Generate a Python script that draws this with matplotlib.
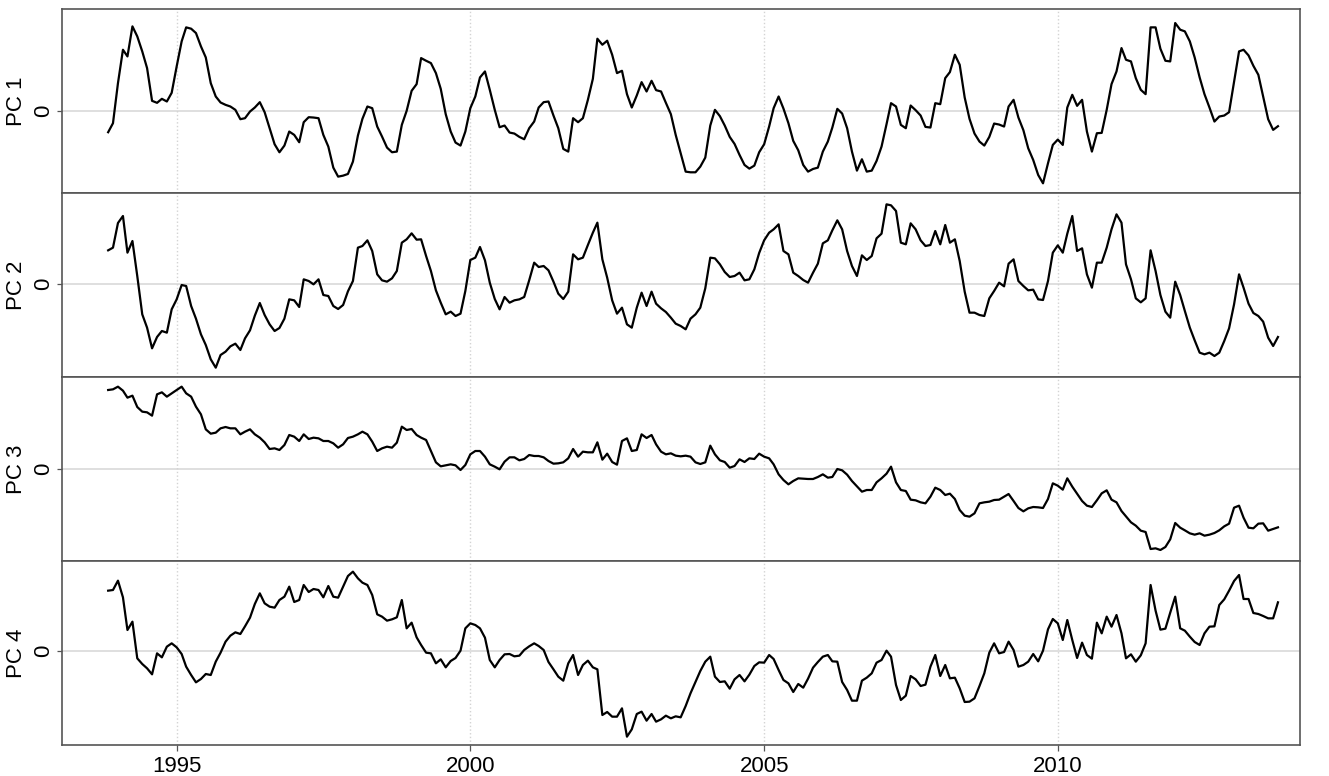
import matplotlib.pyplot as plt
import matplotlib.dates as mdates
import pandas as pd

plt.rcParams['font.family'] = ['Liberation Sans', 'DejaVu Sans']

# monthly scores, Nov 1993 .. Oct 2013
months = pd.date_range('1993-11-01', '2013-10-01', freq='MS')

pc1 = [
    -0.63, -0.36, 0.84, 1.84, 1.64, 2.54, 2.24, 1.79, 1.29, 0.31, 0.25, 0.37, 0.29, 0.55,
    1.34, 2.09, 2.51, 2.47, 2.34, 1.94, 1.61, 0.84, 0.44, 0.26,
    0.19, 0.14, 0.04, -0.24, -0.21, -0.01, 0.11, 0.27, -0.03, -0.51,
    -0.99, -1.23, -1.03, -0.61, -0.71, -0.93, -0.33, -0.18, -0.19, -0.21,
    -0.71, -1.06, -1.69, -1.96, -1.93, -1.88, -1.51, -0.73, -0.23, 0.14,
    0.09, -0.46, -0.76, -1.09, -1.23, -1.21, -0.41, 0.01, 0.61, 0.81,
    1.59, 1.51, 1.44, 1.14, 0.67, -0.09, -0.61, -0.94, -1.03, -0.61,
    0.09, 0.44, 1.01, 1.19, 0.64, 0.04, -0.48, -0.43, -0.64, -0.67,
    -0.77, -0.84, -0.51, -0.31, 0.11, 0.27, 0.29, -0.13, -0.51, -1.13,
    -1.21, -0.21, -0.33, -0.21, 0.34, 0.97, 2.17, 1.99, 2.11, 1.69,
    1.14, 1.21, 0.51, 0.11, 0.47, 0.87, 0.59, 0.91, 0.63, 0.59,
    0.25, -0.09, -0.71, -1.26, -1.81, -1.83, -1.83, -1.66, -1.39, -0.43,
    0.04, -0.15, -0.43, -0.77, -0.98, -1.31, -1.61, -1.72, -1.63, -1.23,
    -0.99, -0.46, 0.09, 0.44, 0.08, -0.36, -0.89, -1.17, -1.61, -1.81,
    -1.73, -1.69, -1.21, -0.91, -0.49, 0.07, -0.07, -0.51, -1.21, -1.78,
    -1.44, -1.81, -1.78, -1.49, -1.06,
    -0.39, 0.24, 0.14, -0.41, -0.51, 0.17, 0.03, -0.13, -0.47, -0.49,
    0.24, 0.21, 0.99, 1.17, 1.69, 1.39, 0.41, -0.23, -0.67, -0.91,
    -1.03, -0.77, -0.37, -0.40, -0.46, 0.14, 0.34, -0.19, -0.57, -1.11,
    -1.46, -1.91, -2.16, -1.56, -1.01,
    -0.85, -1.01, 0.11, 0.49, 0.16, 0.34, -0.61, -1.21, -0.66, -0.65,
    0.04, 0.81, 1.19, 1.89, 1.54, 1.49, 0.99, 0.64, 0.51, 2.51,
    2.51, 1.87, 1.51, 1.49, 2.64, 2.44, 2.39, 2.09, 1.61, 1.01,
    0.51, 0.11, -0.31, -0.16, -0.13, -0.03, 0.89, 1.79, 1.84, 1.67,
    1.36, 1.09, 0.44, -0.24, -0.56, -0.45,
]

pc2 = [
    1.00, 1.08, 1.82, 2.03, 0.93, 1.28, 0.23, -0.92, -1.32, -1.94, -1.60, -1.42, -1.47, -0.77,
    -0.47, -0.04, -0.07, -0.67, -1.05, -1.52, -1.84, -2.27, -2.52, -2.14,
    -2.04, -1.88, -1.80, -1.99, -1.64, -1.40, -0.96, -0.58, -0.94, -1.22,
    -1.42, -1.33, -1.05, -0.47, -0.50, -0.70, 0.13, 0.08, -0.02, 0.13,
    -0.34, -0.37, -0.67, -0.76, -0.64, -0.23, 0.08, 1.08, 1.13, 1.30,
    0.98, 0.28, 0.10, 0.06, 0.16, 0.38, 1.23, 1.33, 1.51, 1.32,
    1.33, 0.83, 0.38, -0.20, -0.57, -0.92, -0.84, -0.97, -0.90, -0.22,
    0.71, 0.78, 1.10, 0.70, 0.03, -0.46, -0.77, -0.40, -0.57, -0.50,
    -0.47, -0.40, 0.10, 0.63, 0.50, 0.53, 0.40, 0.06, -0.30, -0.46,
    -0.24, 0.88, 0.73, 0.78, 1.16, 1.53, 1.83, 0.73, 0.18, -0.50,
    -0.90, -0.72, -1.22, -1.32, -0.72, -0.27, -0.67, -0.24, -0.60, -0.74,
    -0.85, -1.02, -1.20,
    -1.27, -1.37, -1.05, -0.92, -0.72, -0.14, 0.78, 0.76, 0.58, 0.35,
    0.20, 0.23, 0.33, 0.10, 0.13, 0.43, 0.92,
    1.30, 1.53, 1.63, 1.78, 0.98, 0.88, 0.33, 0.23, 0.11, 0.03,
    0.33, 0.60, 1.21, 1.30, 1.60, 1.90, 1.63, 0.98, 0.53, 0.23,
    0.85, 0.71, 0.83, 1.36, 1.50, 2.38, 2.35, 2.18, 1.23, 1.18,
    1.81, 1.63, 1.30, 1.13, 1.16, 1.58, 1.18, 1.76, 1.23, 1.33,
    0.68, -0.24, -0.87, -0.87, -0.94, -0.97, -0.44, -0.22, 0.03, -0.08,
    0.60, 0.73, 0.08, -0.07, -0.20, -0.18, -0.47, -0.49, 0.08, 0.93,
    1.15, 0.93, 1.50, 2.03, 0.98, 1.06, 0.28, -0.12, 0.63, 0.63,
    1.08, 1.63, 2.08, 1.83, 0.58, 0.13, -0.44, -0.56, -0.44, 1.00,
    0.38, -0.34, -0.84, -1.02, 0.06, -0.34, -0.82, -1.32, -1.70, -2.07,
    -2.12, -2.07, -2.17, -2.07, -1.72, -1.34, -0.62, 0.28, -0.12, -0.60,
    -0.88, -0.97, -1.14, -1.62, -1.87, -1.60,
]

pc3 = [
    2.37, 2.39, 2.47, 2.35, 2.14, 2.20, 1.86, 1.72, 1.70, 1.60, 2.24, 2.30, 2.17, 2.27,
    2.37, 2.47, 2.27, 2.17, 1.87, 1.64, 1.19, 1.06, 1.09, 1.22,
    1.26, 1.22, 1.22, 1.04, 1.12, 1.19, 1.04, 0.94, 0.80, 0.60,
    0.62, 0.57, 0.72, 1.02, 0.97, 0.84, 1.04, 0.90, 0.94, 0.92,
    0.84, 0.84, 0.77, 0.64, 0.74, 0.93, 0.97, 1.04, 1.12, 1.04,
    0.82, 0.54, 0.62, 0.67, 0.64, 0.79, 1.27, 1.17, 1.20, 1.02,
    0.94, 0.87, 0.54, 0.20, 0.08, 0.11, 0.14, 0.11, -0.03, 0.12,
    0.44, 0.54, 0.54, 0.37, 0.14, 0.07, -0.01, 0.22, 0.35, 0.35,
    0.26, 0.30, 0.42, 0.39, 0.39, 0.35, 0.24, 0.16, 0.17, 0.20,
    0.32, 0.60, 0.37, 0.52, 0.50, 0.50, 0.80, 0.28, 0.46, 0.21,
    0.13, 0.84, 0.92, 0.54, 0.57, 1.04, 0.93, 1.02, 0.74, 0.52,
    0.44, 0.47, 0.40,
    0.38, 0.40, 0.37, 0.20, 0.15, 0.20, 0.70, 0.44, 0.26, 0.21,
    0.04, 0.09, 0.29, 0.21, 0.32, 0.30, 0.46,
    0.37, 0.32, 0.14, -0.16, -0.33, -0.46, -0.36, -0.28, -0.29, -0.30,
    -0.30, -0.24, -0.16, -0.26, -0.24, 0.00, -0.04, -0.17, -0.36, -0.52,
    -0.68, -0.63, -0.63, -0.40, -0.28, -0.14, 0.07, -0.40, -0.63, -0.66,
    -0.92, -0.94, -1.00, -1.03, -0.83, -0.56, -0.63, -0.78, -0.74, -0.90,
    -1.23, -1.40, -1.43, -1.33, -1.03, -1.00, -0.98, -0.93, -0.92, -0.83,
    -0.75, -0.96, -1.17, -1.27, -1.18, -1.14, -1.15, -1.17, -0.90, -0.43,
    -0.50, -0.62, -0.28, -0.53, -0.74, -0.96, -1.10, -1.14, -0.94, -0.73,
    -0.64, -0.92, -1.00, -1.26, -1.42, -1.60, -1.70, -1.85, -1.89, -2.40,
    -2.38, -2.43, -2.34, -2.11, -1.62, -1.76, -1.84, -1.93, -1.97, -1.93,
    -2.00, -1.97, -1.92, -1.84, -1.72, -1.64, -1.16, -1.10, -1.46, -1.76,
    -1.78, -1.64, -1.63, -1.85, -1.80, -1.75,
]

pc4 = [
    1.80, 1.82, 2.10, 1.60, 0.62, 0.87, -0.23, -0.40, -0.53, -0.71, -0.08, -0.20, 0.12, 0.22,
    0.10, -0.10, -0.48, -0.73, -0.95, -0.85, -0.70, -0.73, -0.33, -0.06,
    0.27, 0.45, 0.55, 0.50, 0.73, 0.99, 1.40, 1.72, 1.42, 1.32,
    1.29, 1.52, 1.62, 1.92, 1.46, 1.52, 1.97, 1.76, 1.85, 1.82,
    1.60, 1.94, 1.62, 1.59, 1.92, 2.24, 2.37, 2.17, 2.04, 1.97,
    1.67, 1.09, 1.02, 0.90, 0.94, 1.00, 1.52, 0.67, 0.84, 0.40,
    0.17, -0.06, -0.08, -0.38, -0.26, -0.50, -0.31, -0.22, 0.00, 0.67,
    0.82, 0.77, 0.67, 0.39, -0.28, -0.50, -0.28, -0.11, -0.10, -0.17,
    -0.15, 0.02, 0.13, 0.22, 0.14, 0.02, -0.34, -0.56, -0.78, -0.90,
    -0.38, -0.13, -0.73, -0.43, -0.30, -0.50, -0.56, -1.93, -1.84, -1.98,
    -1.98, -1.73, -2.58, -2.36, -1.90, -1.83, -2.10, -1.90, -2.13, -2.06,
    -1.95, -2.03, -1.97,
    -2.00, -1.66, -1.28, -0.94, -0.61, -0.33, -0.18, -0.78, -0.94, -0.92,
    -1.14, -0.86, -0.73, -0.92, -0.72, -0.46, -0.35,
    -0.36, -0.13, -0.25, -0.58, -0.88, -0.98, -1.24, -1.00, -1.11, -0.84,
    -0.51, -0.34, -0.18, -0.13, -0.32, -0.33, -0.94, -1.18, -1.50, -1.50,
    -0.90, -0.81, -0.68, -0.36, -0.28, 0.00, -0.18, -1.03, -1.48, -1.35,
    -0.76, -0.86, -1.06, -1.02, -0.48, -0.13, -0.76, -0.43, -0.83, -0.81,
    -1.13, -1.54, -1.53, -1.43, -1.06, -0.68, -0.06, 0.22, -0.08, -0.04,
    0.27, 0.02, -0.48, -0.43, -0.33, -0.10, -0.32, 0.00, 0.64, 0.95,
    0.82, 0.32, 0.92, 0.32, -0.22, 0.24, -0.13, -0.24, 0.84, 0.52,
    1.02, 0.72, 1.07, 0.52, -0.23, -0.11, -0.33, -0.14, 0.22, 1.97,
    1.20, 0.63, 0.66, 1.14, 1.62, 0.67, 0.60, 0.42, 0.26, 0.17,
    0.52, 0.72, 0.73, 1.37, 1.54, 1.80, 2.09, 2.27, 1.55, 1.55,
    1.13, 1.10, 1.04, 0.97, 0.97, 1.45,
]

series = [pc1, pc2, pc3, pc4]
labels = ['PC 1', 'PC 2', 'PC 3', 'PC 4']
ylims = [(-2.45, 3.06), (-2.80, 2.72), (-2.76, 2.76), (-2.83, 2.69)]

fig, axes = plt.subplots(4, 1, sharex=True, figsize=(13.29, 7.76), dpi=100)
fig.subplots_adjust(left=62/1329, right=1300/1329, top=1-9/776, bottom=1-745/776, hspace=0)

for ax, y, lab, lim in zip(axes, series, labels, ylims):
    ax.plot(months, y, color='black', lw=1.6, zorder=3)
    ax.axhline(0, color='#d9d9d9', lw=1.2, zorder=1)
    ax.set_ylim(lim)
    ax.set_yticks([0])
    ax.set_ylabel(lab, fontsize=16)
    ax.yaxis.set_label_coords(-35/1238, 0.5)
    ax.tick_params(axis='y', length=3.5, width=0.9, color='#555555', pad=2, labelsize=16)
    plt.setp(ax.get_yticklabels(), rotation=90, va='center')
    ax.grid(axis='x', color='#d3d3d3', ls=':', lw=1)
    ax.tick_params(axis='x', length=0)
    for s in ax.spines.values():
        s.set_color('#555555')
        s.set_linewidth(1.2)

ax = axes[-1]
ax.xaxis.set_major_locator(mdates.YearLocator(5))
ax.xaxis.set_major_formatter(mdates.DateFormatter('%Y'))
ax.set_xlim(pd.Timestamp('1993-01-18'), pd.Timestamp('2014-02-15'))
ax.tick_params(axis='x', length=4, width=0.9, color='#555555', labelsize=16, pad=4)

fig.savefig('out.png', dpi=100)
